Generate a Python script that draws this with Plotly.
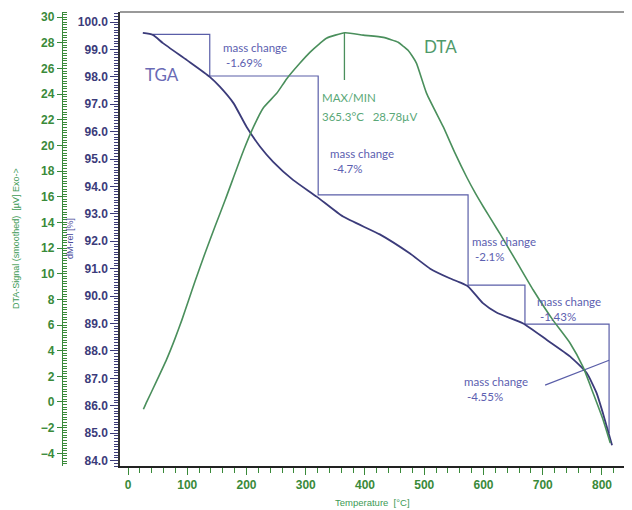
"""TGA / DTA thermogram with mass-change steps."""
import plotly.graph_objects as go

# DTA signal (smoothed) [uV]
dta_temp = [26, 32, 48, 65, 79, 91, 102, 113, 130, 147, 164, 195, 212, 228, 251, 268,
            290, 307, 324, 335, 366, 397, 431, 456, 464, 473, 480, 487, 504, 532, 552,
            572, 586, 600, 616, 628, 657, 684, 717, 746, 768, 785, 802, 814]
dta_signal = [-0.57, 0.05, 1.6, 3.3, 4.9, 6.4, 7.9, 9.4, 11.6, 13.7, 15.74, 19.6,
              21.46, 22.9, 24.06, 25.2, 26.4, 27.25, 27.96, 28.36, 28.78, 28.6, 28.42,
              28.04, 27.75, 27.4, 26.95, 26.4, 24.06, 21.46, 19.4, 17.5, 16.3, 15.2,
              14.0, 13.1, 10.85, 8.73, 6.4, 4.6, 2.73, 0.7, -1.4, -3.2]

# TGA relative mass [%]
tga_temp = [25, 42, 59, 100, 138, 155, 178, 200, 223, 245, 279, 319, 363, 425, 476, 510,
            543, 560, 574, 599, 622, 667, 707, 746, 774, 791, 802, 817]
tga_mass = [99.6, 99.53, 99.23, 98.6, 98.0, 97.64, 97.04, 96.18, 95.45, 94.9, 94.23,
            93.62, 92.9, 92.25, 91.55, 91.0, 90.65, 90.5, 90.35, 89.74, 89.4, 89.0, 88.4,
            87.8, 87.2, 86.46, 85.7, 84.56]

# mass change steps
step_temp = [42, 138, 321, 574, 670, 812]
step_level = [99.55, 98.03, 93.69, 90.4, 88.98, 85.0]
tangent_temp = [704, 812]
tangent_level = [86.75, 87.66]

# DTA peak
peak_temp = 365.3
peak_signal = 28.78
peak_mark_low = 25.1

GREEN = "#3a8a3a"
DTA_COLOR = "#4a8f5c"
TGA_COLOR = "#3b3b7a"
STEP_COLOR = "#5a5ea8"
TEXT_BLUE = "#5c60b0"
TEXT_GREEN = "#5aa878"

# page body adds an 8 px offset, so the figure is a bit smaller than the window
W, H = 624, 502

fig = go.Figure()

fig.add_trace(go.Scatter(
    x=dta_temp, y=dta_signal, yaxis="y2", mode="lines",
    line=dict(color=DTA_COLOR, width=1.6, shape="spline", smoothing=0.5),
    showlegend=False
))
fig.add_trace(go.Scatter(
    x=[peak_temp, peak_temp], y=[peak_signal, peak_mark_low], yaxis="y2", mode="lines",
    line=dict(color=DTA_COLOR, width=1.3), showlegend=False
))
fig.add_trace(go.Scatter(
    x=step_temp, y=step_level, mode="lines",
    line=dict(color=STEP_COLOR, width=1.2, shape="hv"), showlegend=False
))
fig.add_trace(go.Scatter(
    x=tangent_temp, y=tangent_level, mode="lines",
    line=dict(color=STEP_COLOR, width=1.2), showlegend=False
))
fig.add_trace(go.Scatter(
    x=tga_temp, y=tga_mass, mode="lines",
    line=dict(color=TGA_COLOR, width=1.8, shape="spline", smoothing=0.5),
    showlegend=False
))

ann_font = dict(family="Lato, Open Sans, sans-serif", size=11.5, color=TEXT_BLUE)
mass_labels = [
    (157, 98.80, "mass change<br> -1.69%"),
    (338, 94.93, "mass change<br> -4.7%"),
    (577, 91.72, "mass change<br> -2.1%"),
    (687, 89.53, "mass change<br> -1.43%"),
    (564, 86.61, "mass change<br> -4.55%"),
]
annotations = []
for tx, ty, txt in mass_labels:
    annotations.append(dict(x=tx, y=ty, xref="x", yref="y", text=txt, showarrow=False,
                            xanchor="left", yanchor="middle", align="left", font=ann_font))

annotations += [
    dict(x=25, y=98.07, xref="x", yref="y", text="TGA", showarrow=False,
         xanchor="left", yanchor="middle",
         font=dict(family="Lato, Open Sans, sans-serif", size=17, color="#6a6ab5")),
    dict(x=496, y=99.09, xref="x", yref="y", text="DTA", showarrow=False,
         xanchor="left", yanchor="middle",
         font=dict(family="Lato, Open Sans, sans-serif", size=17, color="#4f9a6a")),
    dict(x=324, y=97.23, xref="x", yref="y", text="MAX/MIN", showarrow=False,
         xanchor="left", yanchor="middle",
         font=dict(family="Lato, Open Sans, sans-serif", size=11.5, color=TEXT_GREEN)),
    dict(x=324, y=96.57, xref="x", yref="y", text="365.3°C   28.78µV", showarrow=False,
         xanchor="left", yanchor="middle",
         font=dict(family="Lato, Open Sans, sans-serif", size=11.5, color=TEXT_GREEN)),
    # axis titles
    dict(x=(16 - 8) / W, y=0.5, xref="paper", yref="paper",
         text="DTA-Signal (smoothed)  [µV] Exo->", showarrow=False, textangle=-90,
         xanchor="center", yanchor="middle",
         font=dict(family="Liberation Sans Narrow, Liberation Sans, Arial", size=9,
                   color="#3d9a55")),
    dict(x=(70 - 8) / W, y=(466 - 238) / 454, xref="paper", yref="paper",
         text="dM-rel [%]", showarrow=False, textangle=-90,
         xanchor="center", yanchor="middle",
         font=dict(family="Liberation Sans Narrow, Liberation Sans, Arial", size=9,
                   color="#4a4a9a")),
    dict(x=(372 - 8) / W, y=(466 - 502) / 454, xref="paper", yref="paper",
         text="Temperature  [°C]", showarrow=False,
         xanchor="center", yanchor="middle",
         font=dict(family="Liberation Sans Narrow, Liberation Sans, Arial", size=9.5,
                   color="#3d9a55")),
]

tick_font = "Liberation Sans, Arial, sans-serif"

fig.update_layout(
    width=W, height=H,
    margin=dict(l=0, r=0, t=4, b=44),
    paper_bgcolor="white",
    plot_bgcolor="white",
    annotations=annotations,
    xaxis=dict(
        domain=[(120 - 8) / W, (631 - 8) / W],
        range=[-13.5, 849],
        showgrid=False, zeroline=False,
        showline=True, linecolor="#222", linewidth=1.5,
        ticks="outside", ticklen=7, tickwidth=1.3, tickcolor=GREEN,
        dtick=100, tick0=0,
        minor=dict(dtick=20, ticks="outside", ticklen=5, tickcolor=GREEN, tickwidth=1),
        tickfont=dict(family=tick_font, size=12, color=GREEN, weight="bold"),
    ),
    yaxis=dict(
        range=[83.80, 100.365],
        showgrid=False, zeroline=False,
        showline=True, linecolor="#333", linewidth=1.5,
        ticks="outside", ticklen=8, tickwidth=1.3, tickcolor=TGA_COLOR,
        dtick=1, tick0=84, tickformat=".1f",
        minor=dict(dtick=0.1, ticks="outside", ticklen=4, tickcolor=TGA_COLOR, tickwidth=1),
        tickfont=dict(family=tick_font, size=12, color=TGA_COLOR, weight="bold"),
    ),
    yaxis2=dict(
        overlaying="y", side="left", anchor="free", position=(62 - 8) / W,
        range=[-4.99, 30.4],
        showgrid=False, zeroline=False,
        showline=True, linecolor=GREEN, linewidth=1.3,
        ticks="outside", ticklen=5, tickwidth=1.3, tickcolor=GREEN,
        dtick=2, tick0=0,
        minor=dict(dtick=0.2, ticks="inside", ticklen=4, tickcolor=GREEN, tickwidth=1),
        tickfont=dict(family=tick_font, size=12, color=GREEN, weight="bold"),
    ),
    shapes=[
        dict(type="line", xref="x domain", yref="y domain", x0=0, x1=1, y0=1, y1=1,
             line=dict(color="#777", width=1.5)),
    ],
)

fig.write_html("out.html")
